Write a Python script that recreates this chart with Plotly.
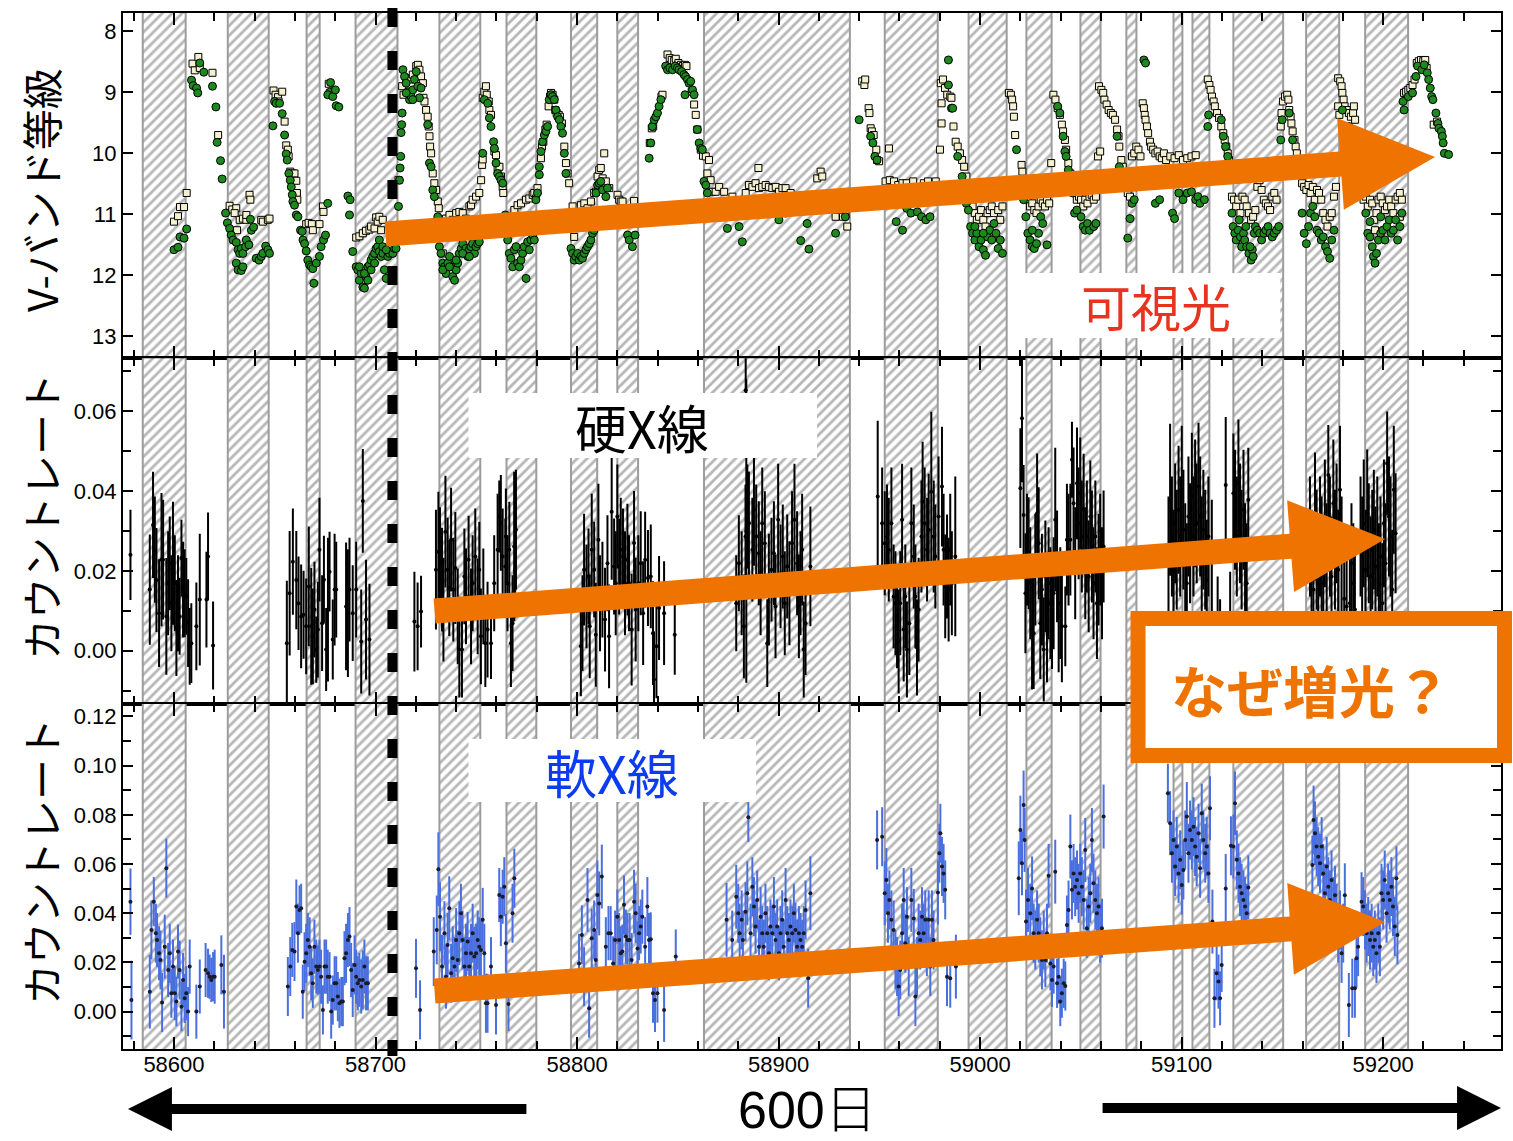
import numpy as np
import plotly.graph_objects as go
from plotly.subplots import make_subplots

# ---------------- data ----------------
X_RANGE = [58574.7, 59258.5]
MAG_RANGE = [13.36, 7.70]
HARD_RANGE = [-0.01325, 0.0732]
SOFT_RANGE = [-0.0152, 0.1252]
DASH_MJD = 58708.4
X_TICKS = [58600, 58700, 58800, 58900, 59000, 59100, 59200]

hatch_intervals = [
    (58584.5, 58605.8), (58626.7, 58647.0), (58665.8, 58672.3), (58690.1, 58710.9),
    (58731.7, 58752.0), (58765.0, 58779.8), (58797.0, 58810.0), (58820.0, 58830.3),
    (58863.0, 58935.4), (58952.7, 58979.0), (58994.3, 59013.2), (59023.0, 59035.5),
    (59049.8, 59059.8), (59072.6, 59077.6), (59096.0, 59100.4), (59105.4, 59113.8),
    (59125.7, 59150.4), (59161.8, 59178.2), (59191.1, 59212.4)]

vband_green = [
    (58600.0,11.58),(58602.0,11.54),(58603.0,11.37),(58605.0,11.39),(58606.3,11.24),
    (58608.7,8.80),(58609.5,8.89),(58611.2,8.93),(58611.8,9.01),(58612.8,8.52),(58614.8,8.67),(58619.1,8.90),(58620.8,9.24),(58621.4,9.82),(58623.1,10.12),(58623.9,10.42),
    (58625.6,10.98),(58626.5,11.14),(58627.6,11.23),(58628.4,11.34),(58629.3,11.42),(58630.9,11.46),(58631.8,11.58),(58632.6,11.64),(58633.4,11.56),(58634.2,11.64),(58635.5,11.53),(58635.9,11.42),(58637.2,11.50),(58637.9,11.08),(58638.4,11.26),(58639.5,11.21),(58640.8,11.72),(58642.2,11.75),(58643.3,11.69),(58644.1,11.64),(58645.5,11.52),(58646.6,11.58),(58647.4,11.64),(58630.9,11.80),(58631.8,11.91),(58633.4,11.92),(58634.2,11.86),
    (58649.1,9.55),(58649.9,9.15),(58650.7,9.18),(58652.4,9.18),(58653.7,9.35),(58654.9,9.70),(58655.7,10.01),(58656.2,10.11),(58657.0,10.33),(58657.7,10.44),(58658.2,10.55),(58658.7,10.68),(58659.0,10.79),(58659.8,10.85),(58660.7,11.01),(58661.5,11.04),(58662.8,11.26),(58663.6,11.28),(58664.0,11.42),(58664.8,11.48),(58665.6,11.60),(58666.4,11.75),(58667.3,11.83),(58668.1,11.86),(58668.9,11.89),(58669.4,12.13),(58670.6,11.80),(58672.2,11.69),(58673.0,11.53),(58674.2,11.42),(58675.2,11.34),(58676.3,10.82),(58677.2,9.00),(58676.3,9.04),(58677.7,8.84),(58678.8,9.07),(58680.1,8.96),(58680.5,9.22),(58681.8,9.24),
    (58686.3,10.70),(58687.4,10.76),(58687.1,11.01),(58688.7,11.61),(58690.4,11.86),(58691.2,11.91),(58692.0,12.08),(58692.9,11.97),(58693.7,12.19),(58694.5,12.21),(58695.3,12.02),(58696.2,11.86),(58697.0,11.83),(58697.8,11.75),(58698.6,11.69),(58699.5,11.64),(58700.3,11.56),(58701.1,11.53),(58701.9,11.61),(58702.8,11.69),(58703.6,11.64),(58704.4,11.91),(58705.3,12.05),(58706.1,11.69),(58706.9,11.64),(58708.6,11.64),(58709.4,11.56),(58710.2,11.56),(58692.0,11.86),(58694.5,11.97),(58696.2,12.08),(58697.8,11.91),(58699.5,11.80),(58701.9,11.42),(58703.6,11.53),(58705.3,11.58),
    (58711.4,10.87),(58711.9,10.44),(58712.2,10.24),(58712.5,10.05),(58712.7,9.66),(58713.0,9.53),(58713.2,9.34),
    (58713.6,8.63),(58714.4,8.74),(58715.2,8.85),(58716.0,8.99),(58716.9,9.12),(58717.7,9.07),(58718.5,8.96),(58719.3,8.79),(58720.2,8.66),(58721.0,8.90),(58721.8,9.09),(58722.6,8.93),(58715.2,9.01),(58718.5,9.12),
    (58725.9,9.53),(58726.8,10.16),(58727.6,10.22),(58728.4,10.60),(58729.2,10.71),
    (58730.9,11.04),(58731.7,11.53),(58732.5,11.64),(58733.4,11.80),(58734.2,11.86),(58735.0,11.97),(58735.9,11.80),(58736.7,11.69),(58737.5,11.86),(58738.3,12.02),(58739.2,12.08),(58740.0,11.91),(58740.8,11.80),(58741.6,11.64),(58742.5,11.56),(58743.3,11.48),(58744.1,11.64),(58744.9,11.56),(58745.8,11.69),(58746.6,11.58),(58747.4,11.53),(58748.2,11.48),(58749.1,11.64),(58749.9,11.53),(58750.7,11.48),(58751.5,11.45),(58733.4,11.91),(58736.7,11.86),(58740.0,11.75),(58743.3,11.64),(58746.6,11.69),
    (58753.2,10.00),(58754.0,9.12),(58755.7,9.18),(58756.5,9.42),(58757.3,9.56),(58758.6,9.81),(58759.0,9.92),(58759.8,10.16),(58760.6,10.33),(58761.5,10.38),(58762.3,10.44),(58763.1,10.49),
    (58764.4,11.01),(58765.6,11.42),(58766.4,11.64),(58767.2,11.72),(58768.1,11.86),(58768.9,11.58),(58769.7,11.53),(58770.5,11.80),(58771.4,11.86),(58772.2,11.75),(58773.0,11.64),(58773.8,11.53),(58774.7,12.05),(58775.5,11.45),(58776.3,11.58),(58777.1,11.42),(58778.0,11.34),(58778.8,11.42),(58779.6,10.76),(58780.4,10.65),(58781.3,10.35),
    (58781.3,10.22),(58782.1,9.97),(58782.9,9.81),(58783.8,9.70),(58784.6,9.64),(58785.4,9.56),(58786.2,9.12),(58787.1,9.04),(58787.9,9.07),(58788.7,9.12),(58789.5,9.29),(58790.4,9.40),(58791.2,9.45),(58792.0,9.56),(58792.8,9.67),(58793.7,10.00),(58794.5,10.33),
    (58797.0,11.56),(58797.8,11.64),(58798.6,11.75),(58799.4,11.69),(58800.3,11.64),(58801.1,11.75),(58801.9,11.69),(58802.7,11.72),(58803.6,11.64),(58804.4,11.58),(58805.2,11.53),(58806.1,11.48),(58806.9,11.42),(58807.7,11.31),(58808.5,11.26),(58809.4,10.65),(58810.2,10.52),(58811.0,10.49),(58811.8,10.46),(58812.7,10.60),(58814.3,10.71),(58815.1,10.57),
    (58825.1,11.34),(58825.9,11.42),(58827.5,11.53),(58828.8,11.34),
    (58835.8,10.08),(58836.6,9.83),(58837.4,9.56),(58838.3,9.45),(58839.1,9.40),(58839.9,9.34),(58840.7,9.23),(58841.6,9.12),(58844.0,8.57),(58844.9,8.63),(58846.0,8.60),(58847.4,8.63),(58848.7,8.57),(58849.8,8.60),(58850.6,8.63),(58851.9,8.66),(58853.1,8.71),(58853.9,8.74),(58854.8,8.79),(58855.6,8.85),(58853.6,9.04),(58856.4,8.82),(58857.3,8.96),(58858.1,9.04),(58859.7,9.61),(58860.6,9.83),(58861.4,9.92),(58862.2,9.94),(58863.0,10.46),(58863.9,10.52),(58864.7,10.65),
    (58874.6,11.23),(58880.4,11.20),(58882.0,11.45),(58900.2,11.09),(58903.5,10.98),(58911.0,11.43),(58914.2,11.15),(58915.1,11.57),(58928.3,11.31),(58933.1,11.04),
    (58940.0,9.45),(58945.7,9.72),(58946.8,9.83),(58947.8,10.05),(58948.9,10.11),(58958.4,11.12),(58961.5,11.26),(58963.6,10.90),(58965.7,10.98),(58968.9,10.96),(58971.0,11.04),(58973.1,11.09),(58975.2,11.04),(58964.7,10.82),
    (58984.3,8.47),(58984.3,8.88),(58985.8,9.26),(58986.4,9.26),(58988.9,10.05),(58991.1,10.38),(58992.1,10.65),(58993.2,10.82),(58994.2,10.93),(58995.3,11.20),(58996.3,11.31),(58997.4,11.42),(58998.4,11.31),(58999.5,11.53),(59000.5,11.42),(59001.6,11.58),(59002.7,11.67),(59003.7,11.37),(59004.8,11.26),(59005.8,11.42),(59006.9,11.15),(59007.9,11.31),(59009.0,11.56),(59010.0,11.42),(59011.1,11.64),(59001.6,11.31),(58997.4,11.20),
    (59018.1,9.94),(59021.6,10.76),(59022.7,11.04),(59023.7,11.31),(59024.8,11.42),(59025.9,11.53),(59026.9,11.56),(59028.0,11.48),(59029.0,11.31),(59030.1,11.04),(59031.1,11.15),(59033.2,11.50),(59025.9,11.26),
    (59038.5,9.23),(59039.6,9.34),(59041.2,9.72),(59042.1,9.97),(59042.7,10.05),(59043.8,10.27),(59044.8,10.44),(59045.9,10.65),(59046.9,10.98),(59048.0,10.93),(59050.1,11.04),(59051.2,11.20),(59052.2,11.26),(59053.3,11.15),(59054.3,11.26),(59056.4,11.20),(59057.5,11.15),(59048.0,10.60),
    (59068.0,9.72),(59069.1,10.22),(59070.1,10.33),(59071.2,10.55),(59073.3,11.39),(59074.4,11.07),(59075.4,10.82),(59076.5,10.76),(59077.5,10.55),
    (59081.3,8.47),(59082.1,8.52),(59085.9,10.33),(59087.0,10.82),(59089.1,10.76),(59095.5,10.98),(59096.5,11.07),(59098.6,10.65),(59100.7,10.76),(59102.8,10.65),(59104.9,10.63),(59107.0,10.76),(59108.1,10.71),(59109.1,10.82),(59111.3,10.76),
    (59113.0,9.56),(59113.4,9.37),(59119.7,9.45),(59120.7,9.72),(59121.8,9.89),(59122.9,10.05),(59123.5,10.22),
    (59125.0,10.98),(59125.6,11.20),(59126.4,11.31),(59127.1,11.42),(59128.1,11.26),(59129.2,11.37),(59129.8,11.53),(59130.7,11.31),(59131.3,11.42),(59132.3,11.53),(59133.4,11.64),(59134.5,11.75),(59135.1,11.58),(59136.1,11.31),(59136.6,11.20),(59137.6,11.26),(59138.7,11.31),(59139.7,11.42),(59140.8,11.31),(59141.8,11.26),(59142.9,11.20),(59143.9,11.31),(59145.0,11.37),(59146.0,11.31),(59147.1,11.26),(59148.2,11.20),(59128.6,11.09),(59131.9,11.20),(59134.0,11.53),(59135.5,11.69),
    (59149.2,9.78),(59149.9,9.45),(59153.4,9.34),(59155.1,9.78),
    (59159.8,10.98),(59160.8,11.31),(59161.9,11.48),(59163.0,11.20),(59164.0,10.98),(59165.1,10.87),(59166.1,11.04),(59167.2,11.26),(59168.2,11.31),(59169.3,11.42),(59170.3,11.37),(59171.4,11.53),(59172.4,11.61),(59173.5,11.72),(59174.5,11.42),(59175.6,11.26),
    (59179.8,9.29),(59183.0,9.56),(59185.1,9.61),(59186.1,9.72),
    (59191.4,10.98),(59192.4,11.31),(59193.5,11.37),(59194.6,11.53),(59195.2,11.69),(59196.0,11.80),(59196.7,11.64),(59197.7,11.42),(59198.8,11.31),(59199.8,11.26),(59200.9,11.42),(59201.9,11.20),(59203.0,11.09),(59204.0,11.31),(59205.1,11.26),(59206.2,11.09),(59207.2,11.42),(59208.3,11.20),(59209.3,10.98),(59193.5,11.12),(59198.8,11.04),
    (59209.9,9.15),(59210.4,9.29),(59212.5,9.07),(59214.6,9.01),(59216.3,8.74),(59217.1,8.57),(59219.2,8.63),(59220.4,8.55),(59221.9,8.68),(59222.6,8.79),(59223.4,8.93),(59224.1,9.07),(59224.7,9.12),(59226.2,9.34),(59227.2,9.51),(59227.7,9.59),(59228.9,9.64),(59229.4,9.72),(59229.8,9.83),(59230.4,10.00),(59232.5,10.02)]

vband_square = [
    (58600.0,11.12),(58602.0,11.03),(58603.0,10.88),(58605.0,10.88),(58606.3,10.65),
    (58609.2,8.53),(58610.3,8.64),(58612.1,8.42),(58612.8,8.60),(58619.1,8.68),(58621.9,9.70),
    (58627.6,10.86),(58628.9,10.92),(58630.9,10.90),(58630.1,10.98),(58631.3,11.26),(58632.6,11.09),(58634.2,11.07),(58635.9,11.09),(58637.5,10.68),(58637.9,10.76),(58635.9,11.01),(58643.3,11.09),(58644.1,11.12),(58646.6,11.09),(58647.4,11.07),
    (58649.4,8.97),(58650.4,9.04),(58651.6,9.08),(58651.9,9.15),(58653.7,8.99),(58654.9,9.48),(58655.7,9.87),(58656.5,9.94),(58656.9,10.05),(58657.7,10.30),(58659.0,10.33),(58659.8,10.33),(58660.7,10.45),(58661.0,10.65),(58661.2,10.76),(58665.6,11.16),(58666.8,11.14),(58668.4,11.16),(58668.9,11.26),(58672.2,11.16),(58673.9,10.87),(58674.2,10.96),(58676.8,8.86),
    (58690.4,11.38),(58692.0,11.36),(58693.7,11.31),(58695.3,11.27),(58697.0,11.25),(58697.8,11.20),(58699.5,11.23),(58700.3,11.05),(58701.1,11.12),(58701.9,11.04),(58702.8,11.26),(58703.6,11.09),(58711.4,10.44),
    (58713.2,8.90),(58713.9,9.04),(58715.2,8.77),(58716.9,8.79),(58718.5,8.71),(58720.2,8.57),(58721.0,8.55),(58721.8,8.63),(58722.6,8.74),(58723.5,8.85),
    (58723.8,9.09),(58724.3,9.15),(58725.1,9.29),(58725.9,9.40),(58726.4,9.56),(58726.8,9.72),(58727.1,9.89),(58727.6,10.00),(58728.4,10.33),(58729.2,10.49),(58730.1,10.60),(58730.9,10.79),(58731.4,10.90),
    (58733.4,11.64),(58735.0,11.07),(58736.7,11.01),(58738.3,11.09),(58740.0,10.98),(58741.6,10.96),(58743.3,10.98),(58744.9,11.07),(58746.6,10.87),(58747.4,10.85),(58748.2,10.76),(58749.9,10.71),(58751.5,10.65),(58752.4,10.44),(58752.9,10.19),(58753.2,10.10),
    (58753.2,9.09),(58754.0,8.99),(58754.8,8.90),(58755.2,9.04),(58756.2,9.15),(58756.5,9.29),(58757.3,9.37),(58759.0,9.97),(58759.8,10.03),(58760.6,10.24),(58761.5,10.22),(58762.3,10.38),(58763.1,10.55),(58763.4,10.65),
    (58766.4,11.04),(58768.9,10.93),(58770.5,10.85),(58772.2,10.82),(58774.7,10.76),(58776.3,10.74),(58778.0,10.68),(58778.8,10.65),(58779.6,10.74),(58780.4,10.57),
    (58782.1,10.08),(58782.6,9.89),(58783.3,9.81),(58784.3,9.61),(58784.9,9.53),(58785.9,9.23),(58786.6,9.07),(58787.1,9.01),(58787.9,9.04),(58788.7,9.12),(58789.2,9.29),(58789.9,9.34),(58790.9,9.37),(58791.5,9.40),(58792.5,9.51),(58793.7,9.89),(58794.5,10.16),(58795.3,10.33),(58796.1,10.49),
    (58797.8,10.87),(58798.6,11.37),(58799.4,10.98),(58801.9,10.85),(58803.6,10.82),(58805.2,10.90),(58806.9,10.79),(58808.5,10.65),(58809.4,10.63),(58810.2,10.38),(58811.0,10.27),(58811.8,10.24),(58812.7,10.41),(58813.5,10.00),(58814.3,10.46),(58816.0,10.57),
    (58820.1,10.68),(58820.9,10.76),(58821.7,10.79),(58822.6,10.79),(58828.3,10.78),
    (58836.1,9.83),(58837.1,9.59),(58837.8,9.56),(58841.9,9.07),(58842.4,9.04),(58844.9,8.38),(58846.0,8.44),(58847.0,8.47),(58848.2,8.49),(58849.0,8.45),(58850.3,8.52),(58851.5,8.55),(58852.6,8.57),(58853.6,8.55),(58854.3,8.57),(58856.9,8.99),(58858.1,9.20),(58858.9,9.37),(58859.7,9.61),(58861.4,9.94),(58862.5,10.04),(58863.9,10.05),(58864.7,10.33),(58865.5,10.11),(58866.3,10.44),(58867.2,10.63),
    (58868.8,10.63),(58870.5,10.55),(58873.0,10.63),(58877.1,10.71),(58883.7,10.65),(58885.3,10.52),(58887.0,10.55),(58888.6,10.49),(58890.3,10.57),(58891.9,10.55),(58893.6,10.52),(58895.2,10.55),(58896.9,10.57),(58898.6,10.55),(58900.2,10.63),(58901.9,10.57),(58903.5,10.57),(58906.0,10.65),(58890.0,10.24),(58919.2,10.41),(58920.9,10.30),(58921.7,10.38),(58928.3,11.04),(58933.2,11.01),(58932.0,11.04),(58934.1,11.20),
    (58941.5,8.82),(58942.6,8.88),(58943.0,8.79),(58944.7,9.26),(58945.1,9.34),(58945.7,9.59),(58946.3,9.64),(58947.2,9.70),(58948.5,9.94),(58948.9,10.11),(58949.9,10.13),(58954.8,9.92),(58953.1,10.46),(58955.2,10.44),(58957.3,10.46),(58959.4,10.52),(58961.5,10.49),(58963.6,10.49),(58966.8,10.46),(58972.1,10.49),(58974.2,10.46),(58978.0,10.46),
    (58980.5,8.85),(58981.6,8.79),(58982.6,8.93),(58983.7,9.04),(58980.9,9.18),(58980.9,9.51),(58980.1,9.94),(58985.2,9.07),(58985.8,9.09),(58986.8,9.56),(58987.9,9.81),(58988.9,9.89),(58990.0,10.00),(58991.1,10.11),(58992.1,10.22),(58993.2,10.38),(58994.2,10.55),(58995.3,10.71),(58996.3,10.87),(58997.4,10.98),(58998.4,11.09),(58999.5,11.04),(59000.5,10.93),(59001.6,11.09),(59002.7,11.20),(59003.7,10.98),(59004.8,10.93),(59005.8,10.87),(59006.9,10.98),(59009.0,10.93),(59010.0,11.09),(59011.1,10.87),
    (59014.3,9.01),(59015.3,9.04),(59015.9,9.12),(59016.4,9.23),(59016.8,9.40),(59017.4,9.70),(59020.6,10.19),(59021.0,10.30),(59021.6,10.46),(59022.7,10.65),(59023.7,10.76),(59024.8,10.87),(59025.9,10.82),(59026.9,10.93),(59028.0,10.98),(59029.0,10.87),(59030.1,10.76),(59031.1,10.82),(59032.2,10.87),(59033.2,10.76),(59034.3,10.82),(59035.3,10.16),
    (59036.4,9.04),(59037.4,9.12),(59038.5,9.26),(59039.6,9.37),(59040.6,9.53),(59041.2,9.64),(59042.1,9.78),(59042.7,9.94),(59043.8,10.16),(59044.8,10.33),(59045.9,10.55),(59046.9,10.65),(59048.0,10.76),(59049.1,10.71),(59050.1,10.76),(59051.2,10.87),(59052.2,10.76),(59053.3,10.82),(59054.3,10.71),(59055.4,10.68),(59056.4,10.76),(59057.5,10.71),(59058.5,10.05),(59059.6,9.97),
    (59059.0,8.90),(59060.2,8.96),(59061.1,9.01),(59061.7,9.12),(59062.8,9.20),(59063.8,9.29),(59064.9,9.34),(59065.9,9.37),(59067.0,9.45),(59068.0,9.61),(59068.7,9.72),(59069.1,9.89),(59070.1,10.11),(59070.8,10.22),(59071.6,10.33),(59073.3,10.65),(59074.4,10.71),(59075.4,10.05),(59076.5,10.00),(59077.5,9.89),(59078.6,9.94),(59079.6,10.05),
    (59080.7,9.18),(59081.3,9.26),(59081.7,9.37),(59082.1,9.45),(59082.8,9.56),(59083.4,9.67),(59084.3,9.81),(59084.9,9.89),(59085.9,9.94),(59087.0,10.00),(59088.1,9.97),(59089.1,10.05),(59090.2,10.08),(59091.2,10.00),(59092.3,10.11),(59094.4,10.05),(59096.5,10.08),(59098.6,10.03),(59100.7,10.11),(59102.8,10.08),(59104.9,10.05),(59107.0,10.03),
    (59113.0,8.79),(59113.8,8.88),(59114.4,8.96),(59115.1,9.07),(59115.9,9.15),(59116.5,9.23),(59117.6,9.34),(59118.6,9.42),(59119.7,9.56),(59120.7,9.67),(59121.4,9.78),(59122.2,9.89),(59122.9,10.00),(59123.5,10.11),(59123.9,10.22),
    (59125.0,10.71),(59126.0,10.76),(59127.1,10.87),(59128.1,10.76),(59129.2,10.98),(59130.2,10.71),(59131.3,10.76),(59132.3,10.87),(59133.4,10.98),(59134.5,11.09),(59135.5,11.04),(59136.6,10.93),(59137.6,10.55),(59138.7,10.44),(59139.7,10.60),(59140.8,10.76),(59141.8,10.82),(59142.9,10.87),(59143.9,10.93),(59145.0,10.71),(59146.0,10.65),(59147.1,10.76),
    (59149.2,9.56),(59149.6,9.34),(59150.3,9.15),(59151.3,9.07),(59152.4,9.04),(59153.0,9.12),(59153.4,9.29),(59154.1,9.40),(59154.5,9.51),(59155.1,9.64),(59156.0,9.78),(59156.6,9.89),(59157.2,10.00),(59157.7,10.11),
    (59159.8,10.49),(59160.8,10.55),(59161.9,10.60),(59163.0,10.52),(59164.0,10.65),(59165.1,10.55),(59166.1,10.76),(59167.2,10.60),(59168.2,10.65),(59169.3,10.76),(59170.3,10.98),(59171.4,11.09),(59172.4,11.20),(59173.5,11.04),(59174.5,10.98),(59175.6,10.71),(59176.6,10.55),
    (59177.7,8.77),(59178.7,8.82),(59179.4,8.90),(59179.8,9.01),(59180.4,9.12),(59180.9,9.23),(59181.9,9.29),(59183.0,9.34),(59184.0,9.40),(59185.1,9.34),(59186.1,9.45),(59185.5,9.23),(59177.7,9.23),(59178.3,9.37),
    (59189.3,10.65),(59190.3,10.76),(59191.4,10.71),(59192.4,10.87),(59193.5,10.76),(59194.6,10.82),(59195.6,11.09),(59196.7,10.98),(59197.7,10.76),(59198.8,10.71),(59199.8,10.82),(59200.9,10.93),(59201.9,10.87),(59203.0,10.76),(59204.0,10.87),(59205.1,10.98),(59206.2,10.76),(59207.2,10.71),(59208.3,10.65),(59209.3,10.76),(59208.3,11.04),(59196.0,11.26),
    (59210.4,9.01),(59211.4,8.99),(59212.5,8.96),(59213.5,8.93),(59214.6,8.88),(59215.6,8.79),(59216.7,8.52),(59217.7,8.49),(59218.8,8.47),(59219.9,8.49),(59220.9,8.47),(59221.6,8.60),(59225.1,9.53),(59226.8,9.48)]

# (MJD, count rate, error)
hard_x = [
    (58578.4,.0240,.0113),(58588.0,.0153,.0138),(58589.6,.0315,.0133),(58590.5,.0253,.0133),(58591.3,.0177,.0130),(58592.6,.0094,.0135),(58593.8,.0228,.0167),(58594.6,.0228,.0150),(58596.2,.0086,.0146),(58597.1,.0169,.0130),(58597.9,.0219,.0117),(58598.7,.0119,.0120),(58599.5,.0219,.0154),(58600.4,.0169,.0120),(58601.2,.0057,.0120),(58602.0,.0119,.0120),(58602.8,.0086,.0096),(58603.7,.0232,.0096),(58604.5,.0153,.0120),(58605.3,.0144,.0110),(58606.1,.0136,.0096),(58607.0,.0069,.0110),(58607.8,.0011,.0096),(58608.6,.0019,.0100),(58611.1,.0061,.0110),(58612.8,.0128,.0165),(58616.1,.0128,.0120),(58616.9,.0236,.0110),(58619.4,.0013,.0110),
    (58656.0,.0019,.0156),(58657.4,.0144,.0156),(58659.0,.0223,.0133),(58660.7,.0177,.0123),(58661.8,.0119,.0117),(58663.1,.0086,.0130),(58664.3,.0090,.0110),(58665.6,.0061,.0120),(58666.9,.0161,.0150),(58668.1,.0061,.0146),(58668.9,.0036,.0120),(58669.7,.0103,.0120),(58670.6,.0003,.0083),(58671.4,.0053,.0120),(58672.2,.0253,.0130),(58673.5,.0069,.0120),(58674.4,.0178,.0110),(58675.5,.0003,.0104),(58676.4,.0103,.0180),(58677.2,.0198,.0100),(58678.8,.0028,.0100),(58679.7,.0153,.0140),(58680.5,.0153,.0120),(58685.4,.0111,.0160),(58686.3,.0094,.0160),(58687.1,.0153,.0130),(58688.7,.0094,.0120),(58690.4,.0153,.0120),(58692.9,.0023,.0130),(58693.7,.0375,.0130),(58695.3,.0078,.0150),(58697.0,.0028,.0140),
    (58719.3,.0073,.0125),(58720.9,.0061,.0110),(58722.6,.0098,.0090),(58730.0,.0203,.0150),(58731.2,.0248,.0150),(58732.0,.0219,.0140),(58733.0,.0178,.0130),(58733.7,.0103,.0130),(58734.7,.0298,.0140),(58735.8,.0203,.0130),(58736.6,.0157,.0120),(58737.5,.0278,.0130),(58738.6,.0153,.0130),(58739.6,.0207,.0140),(58740.8,.0086,.0120),(58741.6,.0003,.0120),(58742.9,.0003,.0120),(58744.1,.0186,.0120),(58744.9,.0136,.0120),(58746.2,.0228,.0110),(58747.4,.0086,.0120),(58748.2,.0169,.0120),(58749.5,.0236,.0120),(58750.7,.0111,.0120),(58751.5,.0203,.0120),(58752.3,.0036,.0120),(58753.5,.0136,.0120),(58754.5,.0019,.0110),(58755.6,.0053,.0120),(58757.3,.0019,.0090),(58758.9,.0169,.0120),(58760.6,.0253,.0140),(58761.4,.0336,.0090),(58762.2,.0320,.0120),(58763.1,.0236,.0120),(58764.4,.0211,.0120),(58764.7,.0286,.0120),(58765.5,.0169,.0120),(58766.4,.0253,.0120),(58767.2,.0019,.0110),(58768.0,.0069,.0120),(58768.8,.0261,.0187),(58769.3,.0203,.0120),(58769.7,.0303,.0150),
    (58801.9,.0011,.0125),(58802.7,.0069,.0120),(58803.5,.0203,.0140),(58804.7,.0136,.0130),(58805.7,.0186,.0120),(58806.3,.0061,.0130),(58807.3,.0253,.0140),(58808.5,.0203,.0120),(58809.3,.0040,.0130),(58810.6,.0278,.0140),(58811.4,.0119,.0120),(58812.6,.0153,.0120),(58813.9,.0078,.0130),(58815.1,.0219,.0120),(58815.9,.0036,.0130),(58817.2,.0348,.0170),(58818.4,.0211,.0120),(58819.2,.0169,.0130),(58820.0,.0336,.0130),(58820.9,.0211,.0120),(58821.7,.0253,.0130),(58822.8,.0236,.0120),(58823.8,.0169,.0130),(58825.0,.0228,.0140),(58825.8,.0169,.0120),(58827.1,.0053,.0140),(58828.3,.0270,.0130),(58829.1,.0103,.0130),(58830.4,.0169,.0120),(58831.6,.0219,.0130),(58832.8,.0094,.0130),(58833.8,.0228,.0120),(58835.2,.0182,.0120),(58836.6,.0186,.0130),(58837.7,.0044,.0130),(58838.2,-.0072,.0120),(58839.4,.0011,.0130),(58840.7,.0107,.0130),(58843.2,.0094,.0130),(58848.5,.0040,.0100),
    (58879.0,.0119,.0120),(58880.3,.0219,.0120),(58881.7,.0169,.0130),(58882.8,.0061,.0130),(58883.6,.0286,.0130),(58883.7,.0652,.0120),(58884.0,.0300,.0380),(58884.5,.0336,.0130),(58885.3,.0319,.0130),(58887.0,.0253,.0130),(58887.8,.0353,.0140),(58888.9,.0286,.0130),(58890.2,.0244,.0130),(58891.1,.0169,.0130),(58891.9,.0319,.0140),(58893.2,.0269,.0130),(58894.4,.0019,.0110),(58895.2,.0153,.0140),(58896.5,.0203,.0130),(58897.7,.0244,.0130),(58898.5,.0111,.0130),(58899.8,.0328,.0140),(58901.0,.0186,.0130),(58902.1,.0236,.0130),(58903.1,.0119,.0130),(58904.3,.0211,.0130),(58905.4,.0144,.0130),(58906.7,.0269,.0130),(58907.9,.0328,.0140),(58909.2,.0219,.0130),(58910.1,.0111,.0130),(58910.9,.0169,.0130),(58911.7,.0253,.0140),(58912.5,.0003,.0120),(58913.4,.0069,.0130),(58915.8,.0211,.0150),
    (58949.2,.0386,.0190),(58951.4,.0319,.0140),(58952.7,.0269,.0130),(58953.8,.0286,.0130),(58954.7,.0253,.0130),(58956.0,.0319,.0140),(58957.1,.0136,.0130),(58958.0,.0119,.0130),(58958.8,.0086,.0130),(58959.6,.0023,.0130),(58960.4,.0119,.0130),(58961.3,.0328,.0140),(58962.1,.0053,.0130),(58962.9,.0136,.0130),(58963.7,.0003,.0120),(58964.9,.0069,.0130),(58965.9,.0319,.0140),(58967.1,.0236,.0130),(58967.9,.0136,.0130),(58968.7,.0008,.0120),(58969.5,.0103,.0130),(58970.9,.0286,.0140),(58971.5,.0373,.0150),(58972.5,.0319,.0140),(58973.7,.0253,.0130),(58974.5,.0303,.0140),(58975.8,.0398,.0200),(58977.0,.0286,.0140),(58977.8,.0236,.0130),(58979.4,.0336,.0150),(58981.1,.0411,.0150),(58981.9,.0253,.0140),(58982.7,.0161,.0130),(58983.6,.0211,.0130),(58984.4,.0153,.0130),(58985.2,.0253,.0140),(58986.0,.0169,.0130),(58987.7,.0236,.0200),
    (59020.0,.0407,.0150),(59020.8,.0582,.0160),(59021.6,.0340,.0125),(59022.5,.0144,.0150),(59023.3,.0253,.0140),(59024.1,.0244,.0140),(59024.9,.0169,.0140),(59025.8,.0053,.0150),(59026.6,.0044,.0140),(59027.4,.0203,.0140),(59028.3,.0344,.0150),(59029.1,.0269,.0140),(59029.9,.0069,.0140),(59030.7,.0153,.0140),(59031.6,.0003,.0130),(59032.4,.0186,.0140),(59033.2,.0061,.0140),(59034.0,.0169,.0140),(59034.9,.0119,.0140),(59035.7,.0094,.0140),(59036.5,.0144,.0140),(59037.3,.0328,.0180),(59038.2,.0211,.0140),(59039.0,.0086,.0140),(59039.8,.0119,.0140),(59040.6,.0061,.0140),(59042.3,.0061,.0100),(59043.1,.0278,.0140),(59043.9,.0253,.0140),(59044.8,.0278,.0140),(59045.6,.0478,.0095),(59046.4,.0369,.0140),(59047.2,.0219,.0140),(59048.1,.0419,.0140),(59048.9,.0319,.0140),(59049.7,.0394,.0140),(59050.5,.0286,.0140),(59051.4,.0353,.0140),(59052.2,.0219,.0140),(59053.0,.0286,.0140),(59053.9,.0186,.0140),(59054.7,.0336,.0140),(59055.5,.0261,.0140),(59056.3,.0169,.0140),(59057.2,.0286,.0140),(59058.0,.0119,.0140),(59058.8,.0203,.0140),(59059.6,.0253,.0140),(59060.5,.0169,.0140),(59061.3,.0261,.0140),
    (59093.5,.0236,.0150),(59094.3,.0378,.0190),(59095.2,.0286,.0150),(59096.0,.0203,.0150),(59096.8,.0319,.0150),(59097.6,.0253,.0150),(59098.5,.0353,.0160),(59099.3,.0286,.0150),(59100.1,.0403,.0160),(59100.9,.0303,.0150),(59101.8,.0219,.0150),(59102.6,.0169,.0150),(59103.4,.0336,.0150),(59104.2,.0269,.0150),(59105.1,.0386,.0160),(59105.9,.0286,.0150),(59106.7,.0369,.0160),(59107.5,.0319,.0150),(59108.4,.0411,.0160),(59109.2,.0336,.0150),(59110.0,.0236,.0150),(59110.8,.0303,.0150),(59111.7,.0253,.0150),(59112.5,.0178,.0150),(59113.3,.0286,.0150),(59115.0,.0228,.0150),(59117.9,.0086,.0100),(59119.1,.0019,.0110),(59121.9,.0415,.0170),(59124.1,.0078,.0120),(59125.7,.0394,.0150),(59126.5,.0353,.0150),(59127.4,.0286,.0150),(59128.2,.0419,.0160),(59129.0,.0319,.0150),(59129.8,.0253,.0150),(59130.7,.0353,.0150),(59131.5,.0219,.0150),(59132.3,.0169,.0150),(59133.1,.0378,.0130),
    (59163.7,.0286,.0150),(59164.5,.0203,.0150),(59165.4,.0153,.0150),(59166.2,.0336,.0160),(59167.0,.0253,.0150),(59167.8,.0169,.0150),(59168.7,.0286,.0150),(59169.5,.0236,.0150),(59170.3,.0169,.0150),(59171.1,.0319,.0160),(59172.0,.0219,.0150),(59172.8,.0440,.0125),(59173.6,.0286,.0150),(59174.4,.0186,.0150),(59175.3,.0369,.0160),(59176.1,.0253,.0150),(59176.9,.0319,.0150),(59177.7,.0203,.0150),(59178.6,.0403,.0160),(59179.4,.0236,.0150),(59180.7,.0130,.0120),(59181.9,.0111,.0120),(59183.5,.0119,.0120),(59184.3,.0219,.0150),(59185.2,.0169,.0150),(59186.0,.0103,.0150),(59188.8,.0286,.0150),(59189.6,.0236,.0150),(59190.4,.0319,.0160),(59191.3,.0203,.0150),(59192.1,.0344,.0160),(59192.9,.0269,.0150),(59193.8,.0186,.0150),(59194.6,.0253,.0150),(59195.4,.0303,.0150),(59196.2,.0211,.0150),(59197.1,.0286,.0150),(59197.9,.0169,.0150),(59198.7,.0236,.0150),(59199.6,.0119,.0150),(59200.4,.0319,.0160),(59201.2,.0219,.0150),(59202.0,.0469,.0130),(59202.9,.0336,.0150),(59203.7,.0286,.0150),(59204.5,.0153,.0150),(59205.3,.0403,.0160),(59206.2,.0294,.0150)]

soft_x = [
    (58578.4,.0447,.0135),(58578.9,.0047,.0160),(58588.0,.0081,.0150),(58588.8,.0332,.0120),(58590.0,.0447,.0100),(58591.0,.0319,.0120),(58591.6,.0291,.0110),(58592.6,.0237,.0110),(58593.3,.0210,.0120),(58594.1,.0037,.0120),(58595.4,.0264,.0130),(58596.2,.0583,.0120),(58597.1,.0169,.0110),(58597.9,.0237,.0120),(58598.7,.0075,.0100),(58599.5,.0183,.0110),(58600.4,.0075,.0110),(58601.2,.0041,.0100),(58602.0,.0244,.0110),(58602.8,.0169,.0120),(58603.7,.0020,.0100),(58604.5,.0129,.0110),(58605.3,.0054,.0100),(58606.1,.0075,.0110),(58607.0,.0000,.0100),(58607.8,.0183,.0110),(58611.1,.0000,.0110),(58612.8,.0102,.0110),(58615.7,.0169,.0110),(58616.9,.0156,.0100),(58617.7,.0142,.0090),(58618.5,.0129,.0090),(58619.4,.0142,.0100),(58620.2,.0142,.0110),(58623.5,.0190,.0120),(58624.8,.0081,.0150),
    (58656.5,.0102,.0120),(58657.7,.0183,.0120),(58658.7,.0251,.0110),(58659.8,.0244,.0120),(58660.7,.0427,.0110),(58661.5,.0319,.0120),(58662.3,.0413,.0100),(58663.1,.0420,.0100),(58663.9,.0081,.0110),(58664.8,.0203,.0120),(58665.6,.0237,.0120),(58666.4,.0291,.0110),(58667.3,.0264,.0120),(58668.1,.0156,.0110),(58668.9,.0115,.0100),(58669.7,.0264,.0110),(58670.6,.0183,.0110),(58671.4,.0169,.0100),(58672.2,.0183,.0110),(58673.0,.0142,.0110),(58673.9,.0007,.0100),(58674.7,.0183,.0110),(58675.5,.0183,.0110),(58676.3,.0142,.0110),(58677.2,.0142,.0100),(58678.0,.0000,.0110),(58678.8,.0047,.0100),(58679.7,.0115,.0110),(58680.5,.0115,.0110),(58681.3,.0061,.0100),(58682.1,.0034,.0100),(58683.0,.0041,.0100),(58683.8,.0041,.0100),(58684.6,.0217,.0110),(58685.4,.0237,.0120),(58686.3,.0291,.0110),(58687.1,.0305,.0120),(58687.9,.0169,.0110),(58688.7,.0088,.0110),(58689.6,.0190,.0120),(58690.4,.0142,.0110),(58691.2,.0115,.0110),(58692.0,.0129,.0110),(58692.9,.0102,.0110),(58693.7,.0129,.0120),(58694.5,.0183,.0110),(58695.3,.0115,.0110),(58696.2,.0115,.0110),
    (58720.1,.0176,.0120),(58722.1,.0007,.0120),(58728.9,.0244,.0140),(58730.4,.0332,.0140),(58731.2,.0579,.0150),(58732.0,.0386,.0140),(58733.0,.0183,.0130),(58734.2,.0319,.0130),(58735.0,.0142,.0130),(58735.8,.0271,.0130),(58736.6,.0420,.0130),(58737.5,.0156,.0120),(58738.3,.0217,.0130),(58739.2,.0183,.0120),(58740.0,.0291,.0130),(58740.8,.0210,.0120),(58741.6,.0319,.0130),(58742.4,.0400,.0120),(58743.2,.0291,.0120),(58744.1,.0183,.0120),(58744.9,.0237,.0120),(58745.7,.0285,.0120),(58746.5,.0183,.0120),(58747.4,.0237,.0120),(58748.2,.0319,.0120),(58749.0,.0224,.0120),(58749.9,.0237,.0120),(58750.7,.0291,.0120),(58751.5,.0264,.0120),(58752.3,.0251,.0120),(58753.2,.0373,.0130),(58754.0,.0237,.0120),(58754.8,.0034,.0120),(58755.6,.0034,.0120),(58757.3,.0183,.0120),(58759.8,.0027,.0120),(58761.4,.0474,.0110),(58762.2,.0386,.0120),(58763.1,.0467,.0110),(58763.9,.0508,.0120),(58764.7,.0278,.0120),(58766.0,.0031,.0110),(58768.0,.0400,.0120),(58768.9,.0542,.0120),
    (58801.0,.0196,.0120),(58802.4,.0312,.0120),(58803.5,.0142,.0120),(58805.2,.0454,.0130),(58806.0,.0014,.0120),(58807.3,.0298,.0120),(58808.5,.0332,.0120),(58809.3,.0210,.0120),(58810.1,.0474,.0140),(58811.0,.0440,.0130),(58812.3,.0549,.0130),(58814.3,.0264,.0120),(58815.6,.0319,.0110),(58816.7,.0319,.0110),(58817.9,.0196,.0110),(58818.9,.0291,.0120),(58820.0,.0386,.0110),(58820.9,.0291,.0110),(58821.7,.0237,.0110),(58822.5,.0244,.0110),(58823.3,.0434,.0120),(58824.2,.0305,.0110),(58825.0,.0291,.0110),(58826.1,.0291,.0110),(58827.1,.0210,.0110),(58828.3,.0447,.0130),(58829.1,.0400,.0120),(58830.0,.0257,.0110),(58830.8,.0319,.0110),(58831.6,.0346,.0110),(58832.4,.0386,.0110),(58833.8,.0264,.0120),(58834.9,.0427,.0120),(58835.7,.0291,.0110),(58836.6,.0294,.0110),(58837.7,.0075,.0120),(58838.7,.0047,.0130),(58839.9,.0075,.0120),(58843.2,.0007,.0130),(58849.0,.0224,.0110),
    (58874.2,.0373,.0150),(58877.0,.0291,.0120),(58879.0,.0467,.0130),(58880.0,.0400,.0120),(58880.7,.0319,.0120),(58881.7,.0373,.0120),(58882.3,.0291,.0120),(58883.6,.0406,.0120),(58884.5,.0481,.0130),(58885.0,.0790,.0100),(58886.1,.0319,.0120),(58887.0,.0508,.0120),(58887.8,.0427,.0120),(58888.6,.0346,.0110),(58889.4,.0454,.0120),(58890.3,.0264,.0110),(58891.1,.0386,.0120),(58891.9,.0319,.0110),(58892.7,.0264,.0110),(58893.5,.0400,.0120),(58894.4,.0319,.0110),(58895.2,.0237,.0110),(58896.0,.0346,.0110),(58896.9,.0319,.0110),(58897.7,.0427,.0120),(58898.5,.0291,.0110),(58899.3,.0346,.0110),(58900.2,.0237,.0110),(58901.0,.0319,.0110),(58901.8,.0373,.0120),(58902.6,.0264,.0110),(58903.5,.0454,.0130),(58904.3,.0319,.0110),(58905.1,.0291,.0110),(58905.9,.0346,.0110),(58906.8,.0319,.0110),(58907.6,.0400,.0120),(58908.4,.0332,.0110),(58909.2,.0264,.0110),(58910.1,.0319,.0110),(58910.9,.0291,.0110),(58911.7,.0264,.0110),(58912.5,.0319,.0110),(58913.4,.0413,.0120),(58914.7,.0136,.0120),(58915.8,.0481,.0150),
    (58948.9,.0698,.0120),(58951.4,.0711,.0120),(58952.7,.0481,.0130),(58953.5,.0535,.0130),(58954.3,.0400,.0120),(58955.0,.0454,.0120),(58956.0,.0373,.0120),(58957.1,.0332,.0120),(58958.0,.0210,.0120),(58958.8,.0183,.0120),(58959.6,.0102,.0120),(58960.4,.0169,.0120),(58961.3,.0319,.0120),(58962.1,.0454,.0130),(58962.9,.0278,.0120),(58963.7,.0386,.0120),(58964.6,.0183,.0120),(58965.9,.0454,.0130),(58967.1,.0379,.0120),(58967.9,.0061,.0120),(58968.7,.0183,.0120),(58969.5,.0319,.0120),(58970.3,.0291,.0120),(58971.2,.0386,.0120),(58972.0,.0319,.0120),(58972.8,.0373,.0120),(58973.6,.0264,.0120),(58974.5,.0373,.0120),(58975.3,.0183,.0120),(58976.1,.0373,.0120),(58976.9,.0291,.0120),(58979.1,.0484,.0130),(58979.8,.0644,.0120),(58980.3,.0725,.0120),(58981.1,.0590,.0120),(58981.9,.0562,.0120),(58982.7,.0495,.0120),(58983.6,.0142,.0120),(58985.2,.0136,.0120),(58988.0,.0183,.0130),
    (59019.2,.0542,.0150),(59020.0,.0738,.0140),(59020.8,.0603,.0130),(59021.6,.0840,.0140),(59022.1,.0698,.0130),(59022.8,.0366,.0130),(59023.8,.0454,.0130),(59024.9,.0400,.0120),(59025.8,.0501,.0130),(59026.6,.0319,.0120),(59027.4,.0291,.0120),(59028.3,.0373,.0120),(59029.1,.0319,.0120),(59029.9,.0264,.0120),(59030.7,.0210,.0120),(59031.6,.0291,.0120),(59032.4,.0210,.0110),(59033.2,.0319,.0120),(59034.0,.0552,.0130),(59034.9,.0196,.0110),(59035.7,.0129,.0110),(59036.5,.0183,.0110),(59037.3,.0569,.0130),(59038.2,.0115,.0100),(59039.0,.0142,.0110),(59039.8,.0041,.0100),(59040.6,.0075,.0100),(59041.5,.0115,.0100),(59042.3,.0104,.0100),(59043.1,.0352,.0120),(59043.9,.0413,.0120),(59044.8,.0671,.0130),(59045.6,.0495,.0120),(59046.4,.0562,.0120),(59047.2,.0508,.0120),(59048.1,.0535,.0120),(59048.9,.0481,.0120),(59049.7,.0562,.0120),(59050.5,.0508,.0120),(59051.4,.0454,.0120),(59052.2,.0657,.0130),(59053.0,.0339,.0120),(59053.9,.0427,.0120),(59054.7,.0481,.0120),(59055.5,.0698,.0130),(59056.3,.0522,.0120),(59057.2,.0454,.0120),(59058.0,.0400,.0120),(59058.8,.0427,.0120),(59059.6,.0319,.0120),(59060.5,.0339,.0120),(59061.3,.0793,.0130),
    (59093.2,.0888,.0120),(59094.3,.0766,.0130),(59095.2,.0644,.0120),(59096.0,.0698,.0120),(59096.8,.0590,.0120),(59097.6,.0671,.0120),(59098.5,.0562,.0120),(59099.3,.0617,.0120),(59100.1,.0515,.0120),(59100.9,.0576,.0120),(59101.8,.0698,.0120),(59102.6,.0793,.0140),(59103.4,.0644,.0120),(59104.2,.0738,.0120),(59105.1,.0698,.0120),(59105.9,.0752,.0120),(59106.7,.0671,.0120),(59107.5,.0630,.0120),(59108.4,.0725,.0120),(59109.2,.0583,.0120),(59110.0,.0806,.0120),(59110.8,.0698,.0120),(59111.7,.0644,.0120),(59112.5,.0671,.0120),(59113.3,.0562,.0120),(59114.1,.0827,.0130),(59115.3,.0366,.0130),(59116.3,.0054,.0120),(59117.4,.0156,.0110),(59118.3,.0122,.0110),(59119.1,.0054,.0110),(59119.9,.0190,.0110),(59121.9,.0501,.0140),(59124.5,.0674,.0120),(59125.7,.0671,.0130),(59126.5,.0847,.0130),(59127.4,.0617,.0120),(59128.2,.0562,.0120),(59129.0,.0508,.0120),(59129.8,.0481,.0120),(59130.7,.0454,.0120),(59131.5,.0427,.0120),(59132.3,.0400,.0120),(59133.1,.0505,.0130),
    (59164.9,.0596,.0120),(59165.5,.0779,.0140),(59166.2,.0725,.0130),(59167.0,.0671,.0120),(59167.8,.0630,.0120),(59168.7,.0603,.0120),(59169.5,.0671,.0120),(59170.3,.0562,.0120),(59171.1,.0481,.0120),(59172.0,.0590,.0120),(59172.8,.0508,.0120),(59173.6,.0454,.0120),(59174.4,.0535,.0120),(59175.3,.0427,.0120),(59176.1,.0473,.0120),(59176.9,.0400,.0120),(59177.7,.0319,.0120),(59178.6,.0373,.0120),(59179.4,.0237,.0120),(59180.2,.0319,.0120),(59181.0,.0473,.0130),(59183.0,.0027,.0130),(59184.7,.0095,.0120),(59186.0,.0095,.0120),(59186.8,.0217,.0120),(59187.6,.0264,.0120),(59189.3,.0447,.0120),(59190.1,.0427,.0120),(59191.0,.0373,.0120),(59191.8,.0319,.0120),(59192.6,.0346,.0120),(59193.5,.0291,.0120),(59194.3,.0319,.0120),(59195.1,.0264,.0120),(59195.9,.0291,.0120),(59196.7,.0237,.0120),(59197.6,.0319,.0120),(59198.4,.0264,.0120),(59199.2,.0481,.0120),(59200.0,.0454,.0120),(59200.8,.0535,.0120),(59201.7,.0400,.0120),(59202.5,.0481,.0120),(59203.3,.0454,.0120),(59204.1,.0508,.0120),(59204.9,.0427,.0120),(59205.8,.0346,.0120),(59206.6,.0542,.0130),(59207.1,.0312,.0120)]

# ---------------- figure ----------------
W, H = 1513, 1141
ML, MR, MT, MB = 123, 10, 13, 92
PW, PH = W - ML - MR, H - MT - MB


def PX(x):
    return (x - ML) / PW


def PY(y):
    return (H - MB - y) / PH


ORANGE = "#EF7300"
fig = make_subplots(rows=3, cols=1, shared_xaxes=True, vertical_spacing=0)

# hatched intervals (all panels)
starts = np.array([a for a, b in hatch_intervals])
ends = np.array([b for a, b in hatch_intervals])
centers = (starts + ends) / 2
widths = ends - starts
n = len(hatch_intervals)
for row, (lo, hi) in zip([1, 2, 3], [(7.0, 14.0), (-0.05, 0.1), (-0.05, 0.2)]):
    fig.add_trace(go.Bar(
        x=centers, y=[hi - lo] * n, base=[lo] * n, width=widths,
        marker=dict(color="white", line=dict(color="#9c9c9c", width=2),
                    pattern=dict(shape="/", fgcolor="#6f6f6f", bgcolor="white",
                                 size=7, solidity=0.4)),
        hoverinfo="skip", showlegend=False), row=row, col=1)

# V band
sq_t, sq_m = zip(*vband_square)
gr_t, gr_m = zip(*vband_green)
fig.add_trace(go.Scatter(x=sq_t, y=sq_m, mode="markers",
                         marker=dict(symbol="square", size=7, color="#f4f0d0",
                                     line=dict(color="black", width=1))), row=1, col=1)
fig.add_trace(go.Scatter(x=gr_t, y=gr_m, mode="markers",
                         marker=dict(symbol="circle", size=8, color="#1e8a1e",
                                     line=dict(color="black", width=1))), row=1, col=1)

# hard X
hx_t, hx_v, hx_e = zip(*hard_x)
fig.add_trace(go.Scatter(x=hx_t, y=hx_v, mode="markers",
                         marker=dict(size=4, color="black"),
                         error_y=dict(type="data", array=list(hx_e), color="black",
                                      thickness=2, width=0)), row=2, col=1)
# soft X
sx_t, sx_v, sx_e = zip(*soft_x)
fig.add_trace(go.Scatter(x=sx_t, y=sx_v, mode="markers",
                         marker=dict(size=4, color="#1a1a2a"),
                         error_y=dict(type="data", array=list(sx_e), color="#4a6fdf",
                                      thickness=2, width=0)), row=3, col=1)

axis_common = dict(showline=True, linecolor="black", linewidth=2, mirror="allticks",
                   ticks="inside", tickcolor="black", tickwidth=1.5, showgrid=False,
                   zeroline=False)
for r in (1, 2, 3):
    fig.update_xaxes(range=X_RANGE, tickvals=X_TICKS, tickformat="d", ticklen=12,
                     ticklabelstandoff=-5,
                     minor=dict(ticks="inside", dtick=20, tick0=58600, ticklen=8,
                                tickcolor="black", tickwidth=1.5),
                     row=r, col=1, **axis_common)
fig.update_yaxes(range=MAG_RANGE, dtick=1, tick0=8, ticklen=10, row=1, col=1, **axis_common)
fig.update_yaxes(range=HARD_RANGE, dtick=0.02, tick0=0, tickformat=".2f", ticklen=10,
                 minor=dict(ticks="inside", dtick=0.01, tick0=0, ticklen=8,
                            tickcolor="black", tickwidth=1.5),
                 row=2, col=1, **axis_common)
fig.update_yaxes(range=SOFT_RANGE, dtick=0.02, tick0=0, tickformat=".2f", ticklen=10,
                 minor=dict(ticks="inside", dtick=0.01, tick0=0, ticklen=8,
                            tickcolor="black", tickwidth=1.5),
                 row=3, col=1, **axis_common)


def arrow_path(x0, y0, x1, y1, w, hw, hl):
    dx, dy = x1 - x0, y1 - y0
    L = np.hypot(dx, dy)
    ux, uy = dx / L, dy / L
    nx, ny = -uy, ux
    bx, by = x1 - ux * hl, y1 - uy * hl
    pts = [(x0 + nx * w, y0 + ny * w), (bx + nx * w, by + ny * w),
           (bx + nx * hw, by + ny * hw), (x1, y1),
           (bx - nx * hw, by - ny * hw), (bx - nx * w, by - ny * w),
           (x0 - nx * w, y0 - ny * w)]
    return "M " + " L ".join(f"{PX(x):.5f},{PY(y):.5f}" for x, y in pts) + " Z"


shapes = []
# dashed vertical line
shapes.append(dict(type="line", xref="x", yref="paper", x0=DASH_MJD, x1=DASH_MJD,
                   y0=PY(8), y1=PY(1056), layer="above",
                   line=dict(color="black", width=10, dash="19px,24px")))


def white_box(x0, y0, x1, y1):
    return dict(type="rect", xref="paper", yref="paper", x0=PX(x0), x1=PX(x1),
                y0=PY(y1), y1=PY(y0), fillcolor="white", line=dict(width=0), layer="above")


shapes.append(white_box(1025, 273, 1282, 338))
shapes.append(white_box(469, 393, 818, 458))
shapes.append(white_box(469, 739, 757, 802))

for (x0, y0, x1, y1) in [(386, 234, 1437, 157), (435, 611, 1387, 539), (435, 991, 1387, 922)]:
    shapes.append(dict(type="path", xref="paper", yref="paper",
                       path=arrow_path(x0, y0, x1, y1, 12.5, 46, 95),
                       fillcolor=ORANGE, line=dict(width=0), layer="above"))

shapes.append(dict(type="rect", xref="paper", yref="paper", x0=PX(1139.5), x1=PX(1506.5),
                   y0=PY(755.5), y1=PY(618.5), fillcolor="white",
                   line=dict(color=ORANGE, width=15), layer="above"))

for (x0, y0, x1, y1) in [(527, 1109, 128, 1109), (1104, 1108, 1503, 1108)]:
    shapes.append(dict(type="path", xref="paper", yref="paper",
                       path=arrow_path(x0, y0, x1, y1, 5, 22, 44),
                       fillcolor="black", line=dict(width=0), layer="above"))

JP = "Noto Sans CJK JP"
annotations = []


def label(text, x, y, size, color, angle=0, weight="normal", family=JP):
    annotations.append(dict(text=text, x=PX(x), y=PY(y), xref="paper", yref="paper",
                            showarrow=False, xanchor="center", yanchor="middle",
                            textangle=angle,
                            font=dict(family=family, size=size, color=color, weight=weight)))


label("V-バンド等級", 40, 190, 41, "black", -90)
label("カウントレート", 40, 517, 41, "black", -90)
label("カウントレート", 40, 862, 41, "black", -90)
label("可視光", 1157, 305, 50, "#E8341F")
label("硬X線", 643, 426, 52, "black")
label("軟X線", 613, 771, 52, "#0B3CF0")
label("なぜ増光？", 1313, 688, 56, ORANGE, weight="bold")
label("600日", 808, 1110, 52, "black", weight=300,
      family="Liberation Sans, Noto Sans CJK JP, sans-serif")

fig.update_layout(
    width=W, height=H, margin=dict(l=ML, r=MR, t=MT, b=MB),
    plot_bgcolor="white", paper_bgcolor="white", showlegend=False, barmode="overlay",
    font=dict(family="Liberation Sans, Arial, sans-serif", size=22, color="black"),
    shapes=shapes, annotations=annotations)

fig.write_html("out.html")
